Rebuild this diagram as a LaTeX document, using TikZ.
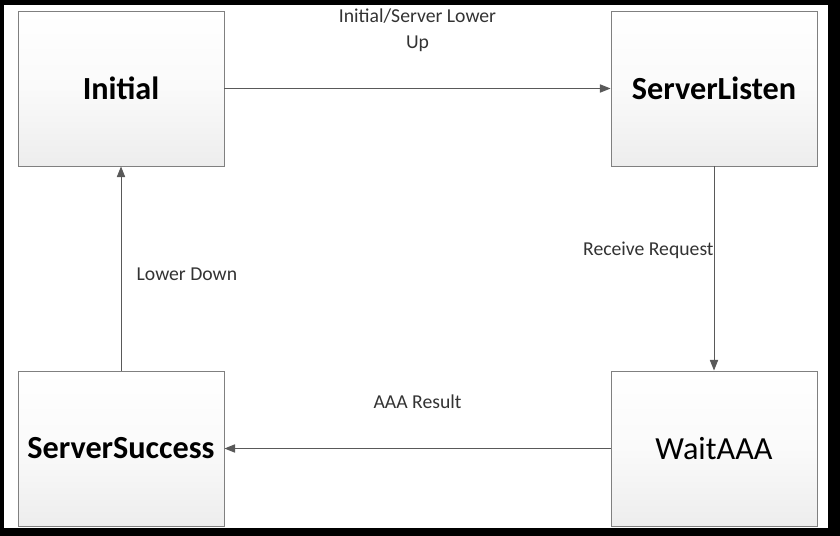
\documentclass[tikz,border=0pt]{standalone}
\usepackage{fontspec}
\setmainfont{Carlito}
\usetikzlibrary{arrows.meta}

\begin{document}
\begin{tikzpicture}[x=0.03cm, y=-0.03cm,
    state/.style={draw=black!50, thick, top color=white, bottom color=black!7,
      middle color=black!2, minimum width=206*0.03cm, minimum height=155*0.03cm,
      inner sep=0pt, font=\fontsize{27.5}{33}\selectfont},
    trans/.style={draw=black!65, thick, -{Triangle[length=9pt, width=7pt]}},
    lbl/.style={text=black!80, font=\fontsize{16.8}{22}\selectfont, inner sep=0pt}]

    % Draw frame
    \fill[black] (0,0) rectangle (840,536);
    \fill[white] (4,5) rectangle (828,528);

    % Draw states
    \node[state, font=\fontsize{27.5}{33}\selectfont\bfseries] (initial) at (121,88.5) {Initial};
    \node[state, font=\fontsize{27.5}{33}\selectfont\bfseries] (listen) at (714,88.5) {ServerListen};
    \node[state, font=\fontsize{27.5}{33}\selectfont\bfseries] (success) at (121,448.5) {ServerSuccess};
    \node[state] (wait) at (714,448.5) {WaitAAA};

    % Draw transitions
    \draw[trans] (initial) -- (listen)
      node[lbl, midway, above=31pt, align=center] {Initial/Server Lower\\Up};
    \draw[trans] (listen) -- (wait)
      node[lbl, pos=0.41, anchor=east] {Receive Request};
    \draw[trans] (wait) -- (success)
      node[lbl, midway, above=34pt] {AAA Result};
    \draw[trans] (success) -- (initial)
      node[lbl, pos=0.47, anchor=west, xshift=13pt] {Lower Down};
\end{tikzpicture}
\end{document}
